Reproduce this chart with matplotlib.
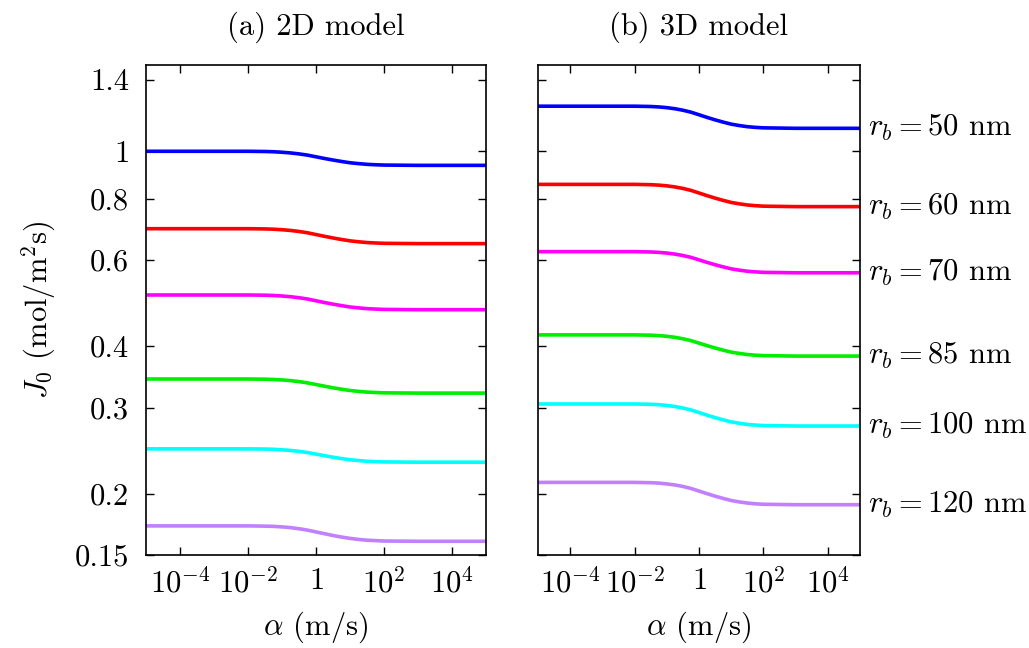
import numpy as np
import matplotlib
matplotlib.use('Agg')
import matplotlib.pyplot as plt
import matplotlib.transforms as mtransforms

plt.rcParams['font.family'] = 'serif'
plt.rcParams['font.serif'] = ['cmr10']
plt.rcParams['mathtext.fontset'] = 'cm'
plt.rcParams['axes.formatter.use_mathtext'] = True
plt.rcParams['font.size'] = 22

# alpha sample points (log10 of m/s)
alpha_exp = [-5, -2, -1.5, -1.25, -1, -0.75, -0.5, -0.25, 0, 0.25, 0.5, 0.75,
             1, 1.25, 1.5, 1.75, 2, 3, 5]
alpha = [10.0 ** e for e in alpha_exp]

# 2D model, J0 (mol/m^2 s)
j2d_50 = [1.0000, 1.0000, 0.9990, 0.9978, 0.9955, 0.9923, 0.9878, 0.9821, 0.9744, 0.9667,
          0.9597, 0.9533, 0.9475, 0.9437, 0.9405, 0.9386, 0.9373, 0.9360, 0.9360]
j2d_60 = [0.6950, 0.6950, 0.6943, 0.6934, 0.6917, 0.6894, 0.6861, 0.6818, 0.6762, 0.6706,
          0.6654, 0.6607, 0.6565, 0.6536, 0.6513, 0.6499, 0.6489, 0.6480, 0.6480]
j2d_70 = [0.5090, 0.5090, 0.5085, 0.5078, 0.5066, 0.5049, 0.5025, 0.4995, 0.4954, 0.4913,
          0.4876, 0.4842, 0.4811, 0.4791, 0.4774, 0.4764, 0.4757, 0.4750, 0.4750]
j2d_85 = [0.3430, 0.3430, 0.3427, 0.3422, 0.3415, 0.3404, 0.3388, 0.3368, 0.3342, 0.3316,
          0.3291, 0.3269, 0.3250, 0.3236, 0.3225, 0.3219, 0.3214, 0.3210, 0.3210]
j2d_100 = [0.2470, 0.2470, 0.2468, 0.2465, 0.2459, 0.2452, 0.2441, 0.2428, 0.2410, 0.2392,
           0.2375, 0.2360, 0.2347, 0.2338, 0.2330, 0.2326, 0.2323, 0.2320, 0.2320]
j2d_120 = [0.1720, 0.1720, 0.1718, 0.1716, 0.1712, 0.1706, 0.1697, 0.1686, 0.1672, 0.1658,
           0.1644, 0.1632, 0.1622, 0.1614, 0.1608, 0.1605, 0.1602, 0.1600, 0.1600]

# 3D model
j3d_50 = [1.2360, 1.2360, 1.2342, 1.2317, 1.2275, 1.2214, 1.2128, 1.2018, 1.1872, 1.1726,
          1.1591, 1.1469, 1.1360, 1.1286, 1.1225, 1.1189, 1.1164, 1.1140, 1.1140]
j3d_60 = [0.8560, 0.8560, 0.8547, 0.8530, 0.8501, 0.8458, 0.8399, 0.8322, 0.8220, 0.8118,
          0.8025, 0.7940, 0.7863, 0.7812, 0.7770, 0.7744, 0.7727, 0.7710, 0.7710]
j3d_70 = [0.6240, 0.6240, 0.6231, 0.6219, 0.6199, 0.6169, 0.6128, 0.6075, 0.6004, 0.5933,
          0.5868, 0.5809, 0.5756, 0.5721, 0.5691, 0.5674, 0.5662, 0.5650, 0.5650]
j3d_85 = [0.4220, 0.4220, 0.4214, 0.4206, 0.4192, 0.4172, 0.4144, 0.4108, 0.4060, 0.4012,
          0.3968, 0.3928, 0.3892, 0.3868, 0.3848, 0.3836, 0.3828, 0.3820, 0.3820]
j3d_100 = [0.3050, 0.3050, 0.3046, 0.3040, 0.3029, 0.3014, 0.2993, 0.2966, 0.2930, 0.2894,
           0.2861, 0.2831, 0.2804, 0.2786, 0.2771, 0.2762, 0.2756, 0.2750, 0.2750]
j3d_120 = [0.2110, 0.2110, 0.2107, 0.2103, 0.2095, 0.2085, 0.2070, 0.2051, 0.2026, 0.2001,
           0.1978, 0.1957, 0.1938, 0.1925, 0.1915, 0.1908, 0.1904, 0.1900, 0.1900]

radii = ['50', '60', '70', '85', '100', '120']
colors = ['#0000ff', '#ff0000', '#ff00ff', '#00ee00', '#00ffff', '#c080ff']

xticks = [1e-4, 1e-2, 1, 1e2, 1e4]
xticklabels = ['$10^{-4}$', '$10^{-2}$', '$1$', '$10^{2}$', '$10^{4}$']
yticks = [0.15, 0.2, 0.3, 0.4, 0.6, 0.8, 1, 1.4]
yticklabels = ['0.15', '0.2', '0.3', '0.4', '0.6', '0.8', '1', '1.4']

data2d = [j2d_50, j2d_60, j2d_70, j2d_85, j2d_100, j2d_120]
data3d = [j3d_50, j3d_60, j3d_70, j3d_85, j3d_100, j3d_120]

fig = plt.figure(figsize=(10.29, 6.48), dpi=100)
ax1 = fig.add_axes([0.1419, 0.1435, 0.3304, 0.7562])
ax2 = fig.add_axes([0.5228, 0.1435, 0.3130, 0.7562])


def style_axis(ax, title, showy):
    ax.set_xscale('log')
    ax.set_yscale('log')
    ax.set_xlim(1e-5, 1e5)
    ax.set_ylim(0.15, 1.5)
    ax.minorticks_off()
    ax.set_xticks(xticks)
    ax.set_xticklabels(xticklabels)
    ax.set_yticks(yticks)
    if showy:
        ax.set_yticklabels(yticklabels)
    else:
        ax.set_yticklabels([])
    ax.tick_params(which='both', direction='in', top=True, right=True,
                   length=6, width=1.0)
    ax.tick_params(axis='x', pad=9)
    ax.tick_params(axis='y', pad=12)
    for s in ax.spines.values():
        s.set_linewidth(1.2)
    ax.set_xlabel(r'$\alpha$ (m/s)', labelpad=8)
    ax.set_title(title, pad=22, fontsize=22)


for ys, c in zip(data2d, colors):
    ax1.plot(alpha, ys, color=c, lw=2.6, solid_capstyle='butt')
for ys, c, r in zip(data3d, colors, radii):
    ax2.plot(alpha, ys, color=c, lw=2.6, solid_capstyle='butt')
    trans = mtransforms.blended_transform_factory(ax2.transAxes, ax2.transData)
    ax2.text(1.025, ys[-1], r'$r_b = ' + r + r'$ nm', transform=trans,
             va='center', ha='left', fontsize=22)

style_axis(ax1, '(a) 2D model', True)
style_axis(ax2, '(b) 3D model', False)
ax1.set_ylabel(r'$J_0$ (mol/m$^2$s)', labelpad=12)

fig.savefig('out.png', dpi=100)
